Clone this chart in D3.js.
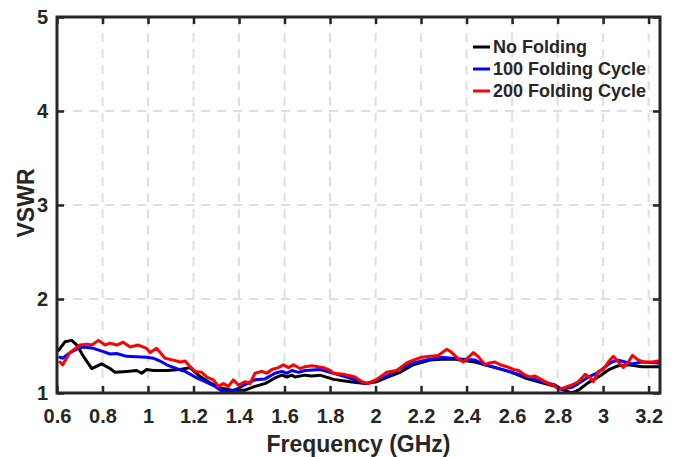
<!DOCTYPE html>
<html>
<head>
<meta charset="utf-8">
<script src="https://cdn.jsdelivr.net/npm/d3@7"></script>
<style>
  html, body { margin: 0; padding: 0; background: #ffffff; }
  svg { display: block; }
  text { font-family: "Liberation Sans", Arial, sans-serif; font-weight: bold; fill: #262626; }
</style>
</head>
<body>
<div id="chart"></div>
<script>
// Measured VSWR versus frequency (GHz) for the three folding conditions
const noFoldingFreq = [0.606, 0.635, 0.665, 0.687, 0.716, 0.753, 0.796, 0.833, 0.855, 0.906, 0.950, 0.972, 0.994, 1.023, 1.082, 1.141, 1.185, 1.221, 1.265, 1.309, 1.368, 1.426, 1.470, 1.514, 1.558, 1.588, 1.610, 1.632, 1.646, 1.690, 1.720, 1.756, 1.815, 1.888, 1.954, 2.005, 2.064, 2.108, 2.166, 2.240, 2.291, 2.350, 2.437, 2.511, 2.599, 2.657, 2.716, 2.789, 2.804, 2.833, 2.862, 2.891, 2.935, 2.979, 3.023, 3.067, 3.111, 3.170, 3.243];
const noFoldingVswr = [1.45, 1.545, 1.56, 1.51, 1.39, 1.26, 1.31, 1.26, 1.22, 1.23, 1.24, 1.21, 1.25, 1.24, 1.24, 1.25, 1.27, 1.19, 1.12, 1.06, 1.03, 1.03, 1.07, 1.10, 1.16, 1.19, 1.17, 1.19, 1.17, 1.19, 1.18, 1.19, 1.145, 1.12, 1.10, 1.12, 1.18, 1.22, 1.30, 1.35, 1.36, 1.36, 1.33, 1.28, 1.22, 1.16, 1.12, 1.07, 1.05, 1.025, 1.00, 1.03, 1.11, 1.17, 1.245, 1.29, 1.30, 1.28, 1.28];

const fold100Freq = [0.613, 0.625, 0.657, 0.694, 0.716, 0.760, 0.804, 0.833, 0.862, 0.906, 0.994, 1.023, 1.053, 1.082, 1.141, 1.163, 1.207, 1.251, 1.295, 1.324, 1.368, 1.397, 1.434, 1.470, 1.514, 1.558, 1.588, 1.610, 1.632, 1.661, 1.690, 1.756, 1.800, 1.858, 1.910, 1.961, 2.005, 2.049, 2.108, 2.166, 2.240, 2.291, 2.335, 2.386, 2.437, 2.481, 2.525, 2.599, 2.657, 2.716, 2.789, 2.818, 2.862, 2.891, 2.935, 2.979, 3.009, 3.038, 3.067, 3.096, 3.126, 3.170, 3.243];
const fold100Vswr = [1.38, 1.37, 1.43, 1.475, 1.49, 1.475, 1.44, 1.415, 1.42, 1.39, 1.38, 1.37, 1.34, 1.30, 1.245, 1.23, 1.17, 1.12, 1.07, 1.02, 1.02, 1.05, 1.10, 1.14, 1.15, 1.21, 1.23, 1.21, 1.24, 1.22, 1.24, 1.25, 1.22, 1.18, 1.14, 1.10, 1.14, 1.18, 1.26, 1.32, 1.36, 1.38, 1.37, 1.36, 1.35, 1.30, 1.27, 1.22, 1.18, 1.13, 1.085, 1.04, 1.06, 1.10, 1.17, 1.22, 1.28, 1.33, 1.35, 1.33, 1.31, 1.33, 1.32];

const fold200Freq = [0.613, 0.625, 0.657, 0.701, 0.731, 0.753, 0.782, 0.811, 0.833, 0.862, 0.891, 0.921, 0.957, 0.994, 1.009, 1.038, 1.075, 1.111, 1.141, 1.163, 1.185, 1.207, 1.236, 1.258, 1.287, 1.309, 1.331, 1.353, 1.375, 1.397, 1.426, 1.448, 1.470, 1.500, 1.522, 1.544, 1.573, 1.595, 1.617, 1.639, 1.668, 1.690, 1.720, 1.771, 1.800, 1.815, 1.858, 1.910, 1.939, 1.968, 2.005, 2.049, 2.093, 2.137, 2.166, 2.203, 2.240, 2.276, 2.313, 2.335, 2.364, 2.386, 2.408, 2.430, 2.450, 2.481, 2.500, 2.525, 2.547, 2.577, 2.606, 2.628, 2.657, 2.679, 2.701, 2.731, 2.760, 2.789, 2.804, 2.833, 2.862, 2.891, 2.921, 2.943, 2.957, 2.979, 3.001, 3.023, 3.045, 3.067, 3.089, 3.111, 3.129, 3.155, 3.180, 3.214, 3.243];
const fold200Vswr = [1.33, 1.30, 1.43, 1.51, 1.52, 1.51, 1.56, 1.51, 1.53, 1.51, 1.54, 1.49, 1.51, 1.475, 1.43, 1.475, 1.37, 1.35, 1.33, 1.34, 1.28, 1.23, 1.22, 1.17, 1.14, 1.07, 1.10, 1.07, 1.14, 1.085, 1.12, 1.10, 1.21, 1.23, 1.21, 1.25, 1.27, 1.30, 1.27, 1.30, 1.26, 1.28, 1.29, 1.27, 1.24, 1.21, 1.20, 1.17, 1.12, 1.10, 1.145, 1.22, 1.24, 1.32, 1.35, 1.38, 1.39, 1.40, 1.465, 1.43, 1.36, 1.33, 1.38, 1.43, 1.39, 1.30, 1.32, 1.33, 1.30, 1.28, 1.25, 1.24, 1.19, 1.17, 1.18, 1.14, 1.10, 1.075, 1.04, 1.06, 1.085, 1.12, 1.20, 1.16, 1.12, 1.23, 1.25, 1.33, 1.39, 1.33, 1.27, 1.33, 1.40, 1.35, 1.33, 1.33, 1.34];

const seriesNames = ["No Folding", "100 Folding Cycle", "200 Folding Cycle"];
const seriesColors = ["#000000", "#0000ff", "#ff0000"];

const xTickValues = [0.6, 0.8, 1.0, 1.2, 1.4, 1.6, 1.8, 2.0, 2.2, 2.4, 2.6, 2.8, 3.0, 3.2];
const xTickLabels = ["0.6", "0.8", "1", "1.2", "1.4", "1.6", "1.8", "2", "2.2", "2.4", "2.6", "2.8", "3", "3.2"];
const yTickValues = [1, 2, 3, 4, 5];

const xDomain = [0.6, 3.25];
const yDomain = [1, 5];

const width = 677, height = 457;
const margin = { left: 57, top: 17, right: 17, bottom: 64 };
const plotW = width - margin.left - margin.right;
const plotH = height - margin.top - margin.bottom;

const svg = d3.select("#chart").append("svg")
  .attr("width", width)
  .attr("height", height);

const x = d3.scaleLinear().domain(xDomain).range([margin.left, margin.left + plotW]);
const y = d3.scaleLinear().domain(yDomain).range([margin.top + plotH, margin.top]);

// dashed grid
const grid = svg.append("g").attr("stroke", "#dedede").attr("stroke-width", 2).attr("stroke-dasharray", "9,7");
grid.selectAll("line.gx").data(xTickValues.slice(1)).join("line")
  .attr("x1", d => x(d)).attr("x2", d => x(d))
  .attr("y1", margin.top).attr("y2", margin.top + plotH);
grid.selectAll("line.gy").data(yTickValues.slice(1, -1)).join("line")
  .attr("x1", margin.left).attr("x2", margin.left + plotW)
  .attr("y1", d => y(d)).attr("y2", d => y(d));

// data lines
const series = [
  { freq: noFoldingFreq, vswr: noFoldingVswr },
  { freq: fold100Freq, vswr: fold100Vswr },
  { freq: fold200Freq, vswr: fold200Vswr }
];
const line = d3.line().x(d => x(d[0])).y(d => y(d[1]));
svg.append("clipPath").attr("id", "plotclip").append("rect")
  .attr("x", margin.left).attr("y", margin.top).attr("width", plotW).attr("height", plotH);
const linesG = svg.append("g").attr("clip-path", "url(#plotclip)");
series.forEach((s, i) => {
  linesG.append("path")
    .datum(d3.zip(s.freq, s.vswr))
    .attr("fill", "none")
    .attr("stroke", seriesColors[i])
    .attr("stroke-width", 3)
    .attr("stroke-linejoin", "round")
    .attr("stroke-linecap", "round")
    .attr("d", line);
});

// axes with inward ticks on all four sides
const axisColor = "#262626";
function styleAxis(g) {
  g.select(".domain").remove();
  g.selectAll(".tick line").attr("stroke", axisColor).attr("stroke-width", 2.5);
  g.selectAll("text").attr("fill", axisColor).style("font-size", "20px").style("font-weight", "bold");
}
svg.append("g")
  .attr("transform", `translate(0,${margin.top + plotH})`)
  .call(d3.axisBottom(x).tickValues(xTickValues).tickSize(-7).tickPadding(16)
    .tickFormat((d, i) => xTickLabels[i]))
  .call(styleAxis);
svg.append("g")
  .attr("transform", `translate(0,${margin.top})`)
  .call(d3.axisTop(x).tickValues(xTickValues).tickSize(-7).tickFormat(""))
  .call(styleAxis);
svg.append("g")
  .attr("transform", `translate(${margin.left},0)`)
  .call(d3.axisLeft(y).tickValues(yTickValues).tickSize(-7).tickPadding(9).tickFormat(d3.format("d")))
  .call(styleAxis);
svg.append("g")
  .attr("transform", `translate(${margin.left + plotW},0)`)
  .call(d3.axisRight(y).tickValues(yTickValues).tickSize(-7).tickFormat(""))
  .call(styleAxis);

// frame
svg.append("rect")
  .attr("x", margin.left).attr("y", margin.top)
  .attr("width", plotW).attr("height", plotH)
  .attr("fill", "none").attr("stroke", axisColor).attr("stroke-width", 3);

// axis titles
svg.append("text")
  .attr("x", margin.left + plotW / 2).attr("y", 452)
  .attr("text-anchor", "middle")
  .style("font-size", "23px")
  .text("Frequency (GHz)");
svg.append("text")
  .attr("transform", `translate(34,${margin.top + plotH / 2 - 2}) rotate(-90)`)
  .attr("text-anchor", "middle")
  .style("font-size", "23px")
  .text("VSWR");

// legend
const legend = svg.append("g").attr("transform", "translate(473,47)");
seriesNames.forEach((name, i) => {
  const row = legend.append("g").attr("transform", `translate(0,${i * 22})`);
  row.append("line").attr("x1", 0).attr("x2", 17).attr("y1", 0).attr("y2", 0)
    .attr("stroke", seriesColors[i]).attr("stroke-width", 3);
  row.append("text").attr("x", 20).attr("y", 0).attr("dy", "0.35em")
    .style("font-size", "18px").attr("fill", "#000").text(name);
});
</script>
</body>
</html>
